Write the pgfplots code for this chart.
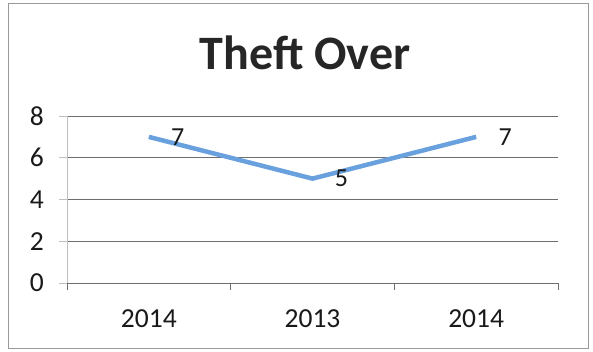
\documentclass[border=0pt]{standalone}
\usepackage{pgfplots}
\pgfplotsset{compat=1.18}
\usepackage{fontspec}
\setmainfont{Carlito}
\definecolor{lineblue}{RGB}{105,160,222}
\definecolor{gridgray}{RGB}{110,110,110}
\begin{document}
\begin{tikzpicture}[x=1pt,y=1pt]
\path (0,0) rectangle (593,351);
\draw[gray!80, line width=0.8pt] (8,3) rectangle (588,348);
\node[anchor=base, font=\fontsize{48}{58}\selectfont\bfseries, text=black!85] at (305,281) {Theft Over};
\begin{axis}[
  at={(67pt,68pt)}, anchor=south west,
  scale only axis, width=491pt, height=167pt,
  xmin=-0.5, xmax=2.5, ymin=0, ymax=8,
  xtick={0,1,2}, xticklabels={2014,2013,2014},
  ytick={0,2,4,6,8},
  minor xtick={-0.5,0.5,1.5,2.5},
  axis lines=left, axis line style={-},
  x axis line style={gridgray, line width=0.8pt},
  y axis line style={gray!50, line width=0.8pt},
  ymajorgrids, grid style={gridgray, line width=0.8pt},
  major x tick style={draw=none},
  minor x tick style={gridgray, line width=0.8pt},
  y tick style={gray!50, line width=0.8pt},
  tick align=outside, major tick length=8pt, minor tick length=7pt,
  /pgf/number format/assume math mode=true,
  tick label style={font=\fontsize{27.5}{33}\selectfont, text=black!90},
  x tick label style={anchor=base, inner sep=0pt, yshift=-36pt},
  y tick label style={anchor=east, inner sep=0pt, xshift=-15pt},
  clip=false,
]
\addplot[lineblue, line width=4.5pt, line join=round,
  nodes near coords,
  every node near coord/.append style={anchor=center, xshift=29pt, yshift=0pt,
     font=\fontsize{26}{31}\selectfont, text=black!90}]
  coordinates {(0,7) (1,5) (2,7)};
\end{axis}
\end{tikzpicture}
\end{document}
